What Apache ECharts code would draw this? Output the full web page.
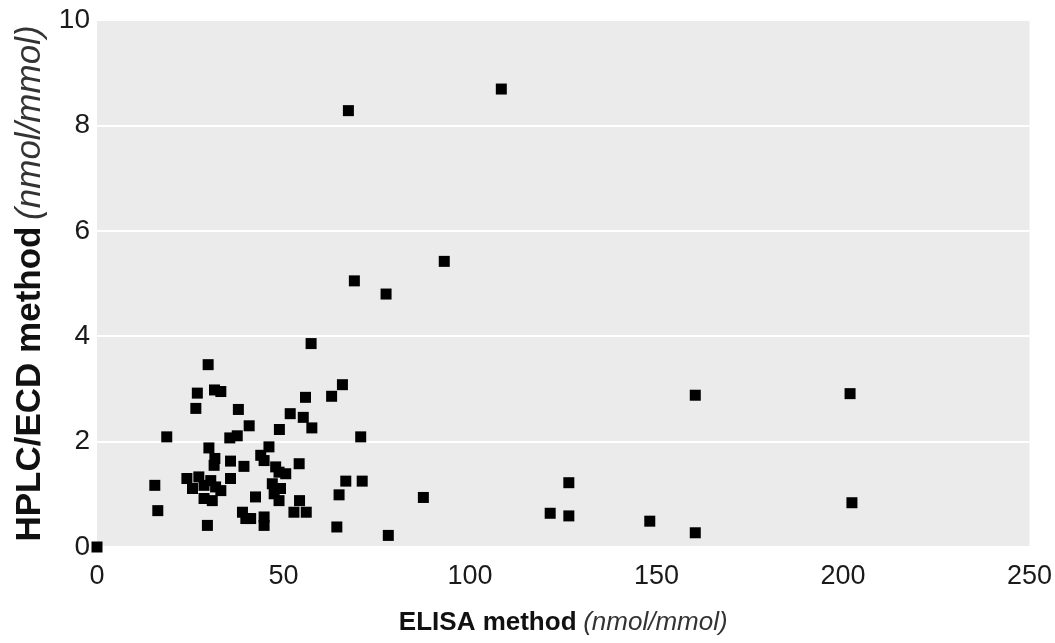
<!DOCTYPE html>
<html>
<head>
<meta charset="utf-8">
<script src="https://cdn.jsdelivr.net/npm/echarts@6/dist/echarts.min.js"></script>
<style>
html,body{margin:0;padding:0;background:#fff;}
#chart{width:1055px;height:643px;}
</style>
</head>
<body>
<div id="chart"></div>
<script>
// ELISA method values (nmol/mmol)
const elisa = [0, 15.5, 16.3, 18.7, 24.1, 27.3, 30.5, 28.7, 25.6, 31.8, 33.2, 28.7, 30.9, 29.6, 30.0, 31.6, 31.4, 35.8, 39.4, 35.8,
  42.5, 39.0, 39.9, 41.2, 44.8, 44.8, 43.9, 46.1, 44.8, 47.9, 48.8, 50.6, 47.0, 49.2, 47.5, 48.8, 54.2, 54.3, 52.8, 56.1,
  35.6, 37.6, 48.9, 40.8, 57.6, 51.8, 55.3, 26.5, 37.9, 26.9, 31.5, 33.2, 29.8, 55.9, 62.9, 65.8, 57.4, 70.7, 66.7, 71.1,
  64.9, 64.3, 78.1, 87.5, 67.4, 108.4, 93.1, 69.0, 77.5, 121.5, 126.5, 126.5, 148.2, 160.4, 160.4, 201.9, 202.4];
// HPLC/ECD method values (nmol/mmol)
const hplc = [0, 1.17, 0.69, 2.09, 1.30, 1.33, 1.26, 1.17, 1.11, 1.14, 1.07, 0.92, 0.88, 0.41, 1.88, 1.68, 1.55, 1.63, 1.53, 1.30,
  0.95, 0.66, 0.54, 0.54, 0.57, 0.41, 1.74, 1.90, 1.64, 1.52, 1.42, 1.39, 1.20, 1.11, 1.01, 0.88, 1.58, 0.88, 0.66, 0.66,
  2.07, 2.11, 2.23, 2.30, 2.26, 2.53, 2.46, 2.63, 2.61, 2.92, 2.98, 2.95, 3.46, 2.84, 2.86, 3.08, 3.86, 2.09, 1.25, 1.25,
  0.99, 0.38, 0.22, 0.94, 8.28, 8.69, 5.42, 5.05, 4.80, 0.64, 1.22, 0.59, 0.49, 2.88, 0.27, 2.91, 0.84];
const xTicks = [0, 50, 100, 150, 200, 250];
const yTicks = [0, 2, 4, 6, 8, 10];

const points = elisa.map((v, i) => [v, hplc[i]]);
const chart = echarts.init(document.getElementById('chart'), null, {renderer: 'canvas'});
const font = '"Liberation Sans", Arial, Helvetica, sans-serif';
chart.setOption({
  animation: false,
  backgroundColor: '#ffffff',
  grid: {left: 97, right: 23, top: 20, bottom: 96, show: true, backgroundColor: '#ebebeb', borderWidth: 0},
  xAxis: {
    type: 'value', min: xTicks[0], max: xTicks[xTicks.length - 1], interval: 50,
    axisLine: {show: false}, axisTick: {show: false}, splitLine: {show: false},
    axisLabel: {color: '#1a1a1a', fontSize: 27, fontFamily: font, margin: 16},
    name: '{b|ELISA method}  {i|(nmol/mmol)}',
    nameLocation: 'middle', nameGap: 63,
    nameTextStyle: {
      rich: {
        b: {fontSize: 26, fontWeight: 'bold', fontFamily: font, color: '#111'},
        i: {fontSize: 26, fontStyle: 'italic', fontFamily: font, color: '#333'}
      }
    }
  },
  yAxis: {
    type: 'value', min: yTicks[0], max: yTicks[yTicks.length - 1], interval: 2,
    axisLine: {show: false}, axisTick: {show: false},
    splitLine: {show: true, lineStyle: {color: '#ffffff', width: 2}},
    axisLabel: {color: '#1a1a1a', fontSize: 28, fontFamily: font, margin: 7},
    name: '{b|HPLC/ECD method}  {i|(nmol/mmol)}',
    nameLocation: 'middle', nameGap: 44, nameRotate: 90,
    nameTextStyle: {
      rich: {
        b: {fontSize: 35, fontWeight: 'bold', fontFamily: font, color: '#111'},
        i: {fontSize: 35, fontStyle: 'italic', fontFamily: font, color: '#333'}
      }
    }
  },
  series: [{
    type: 'scatter',
    data: points,
    symbol: 'rect',
    symbolSize: 11,
    itemStyle: {color: '#000', opacity: 1},
    clip: false
  }]
});
</script>
</body>
</html>
